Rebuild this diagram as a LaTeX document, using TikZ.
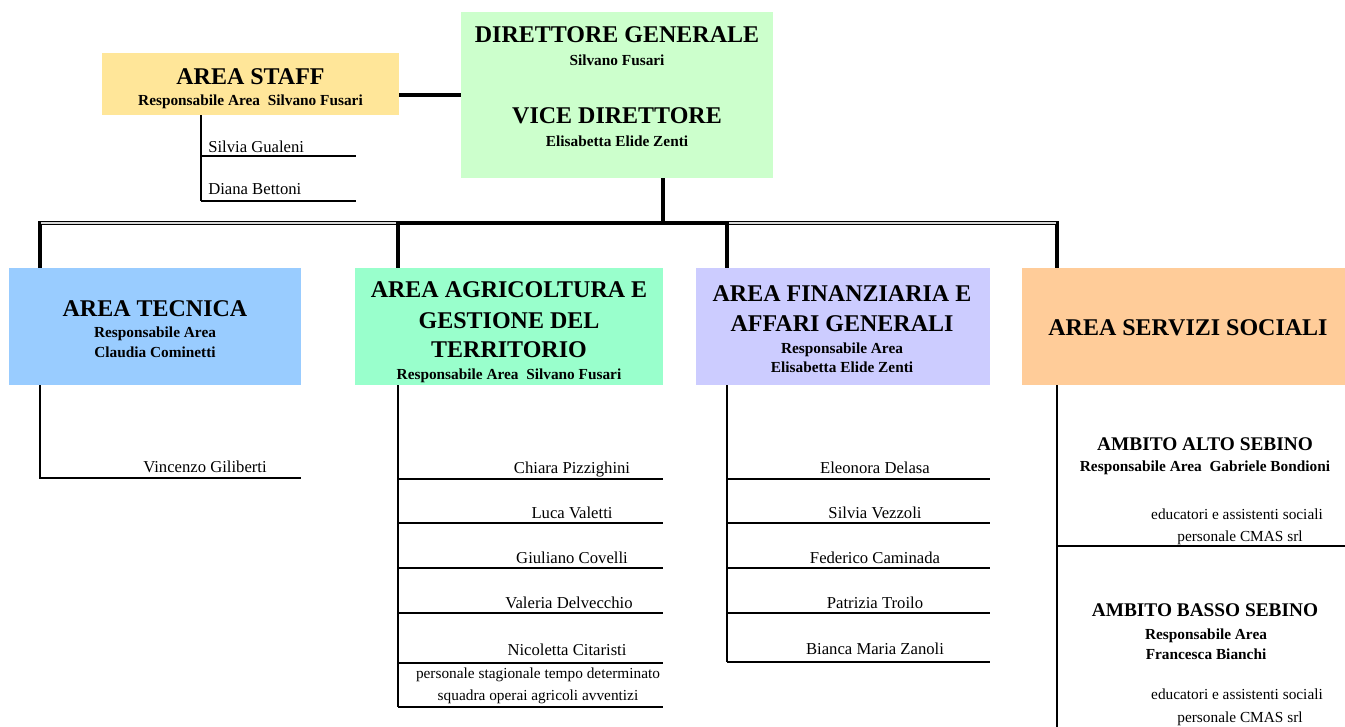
\documentclass[tikz,border=0pt]{standalone}
\usepackage{fontspec}
\setmainfont{Liberation Serif}
\definecolor{cDir}{HTML}{CCFFCC}
\definecolor{cStaff}{HTML}{FFE699}
\definecolor{cTec}{HTML}{99CCFF}
\definecolor{cAgr}{HTML}{99FFCC}
\definecolor{cFin}{HTML}{CCCCFF}
\definecolor{cSer}{HTML}{FFCC99}
\definecolor{cGap}{HTML}{D8D8D8}
\tikzset{
  areabox/.style={draw=none, inner sep=0pt, minimum height=87.75pt},
  bigtxt/.style={font=\fontsize{18}{20}\selectfont\bfseries, anchor=base, inner sep=0pt},
  subtxt/.style={font=\fontsize{11.5}{13}\selectfont\bfseries, anchor=base, inner sep=0pt},
  ambtxt/.style={font=\fontsize{14.5}{16}\selectfont\bfseries, anchor=base, inner sep=0pt},
  nametxt/.style={font=\fontsize{12.5}{14}\selectfont, anchor=base, inner sep=0pt},
  notetxt/.style={font=\fontsize{11.5}{13}\selectfont, anchor=base, inner sep=0pt},
  mainline/.style={line width=2.4pt, black},
  dblouter/.style={line width=2.4pt, black},
  dblinner/.style={line width=0.8pt, cGap},
  treeline/.style={line width=1pt, black},
  nameline/.style={line width=1.3pt, black},
}
\begin{document}
\begin{tikzpicture}[x=0.75pt, y=-0.75pt]
\useasboundingbox (0,0) rectangle (1345,727);

% ---- boxes ----
\node[fill=cDir, inner sep=0pt, minimum width=234pt, minimum height=124.5pt] (dir) at (617,95) {};
\node[fill=cStaff, inner sep=0pt, minimum width=222.75pt, minimum height=46.5pt] (staff) at (250.5,84) {};
\node[areabox, fill=cTec, minimum width=219pt] (tec) at (155,326.5) {};
\node[areabox, fill=cAgr, minimum width=231pt] (agr) at (509,326.5) {};
\node[areabox, fill=cFin, minimum width=220.5pt] (fin) at (843,326.5) {};
\node[areabox, fill=cSer, minimum width=242.25pt] (ser) at (1183.5,326.5) {};

% ---- texts in boxes ----
\node[bigtxt] (t1) at (617,43) {DIRETTORE GENERALE};
\node[subtxt] (t2) at (617,66) {Silvano Fusari};
\node[bigtxt] (t3) at (617,124) {VICE DIRETTORE};
\node[subtxt] (t4) at (617,147) {Elisabetta Elide Zenti};

\node[bigtxt] (s1) at (250.5,85) {AREA STAFF};
\node[subtxt] (s2) at (250.5,106) {Responsabile Area\ \ Silvano Fusari};

\node[bigtxt] (tc1) at (155,316) {AREA TECNICA};
\node[subtxt] (tc2) at (155,337) {Responsabile Area};
\node[subtxt] (tc3) at (155,357) {Claudia Cominetti};

\node[bigtxt] (ag1) at (509,297) {AREA AGRICOLTURA E};
\node[bigtxt] (ag2) at (509,328) {GESTIONE DEL};
\node[bigtxt] (ag3) at (509,357) {TERRITORIO};
\node[subtxt] (ag4) at (509,379) {Responsabile Area\ \ Silvano Fusari};

\node[bigtxt] (fn1) at (842,301) {AREA FINANZIARIA E};
\node[bigtxt] (fn2) at (842,331) {AFFARI GENERALI};
\node[subtxt] (fn3) at (842,353) {Responsabile Area};
\node[subtxt] (fn4) at (842,372) {Elisabetta Elide Zenti};

\node[bigtxt] (sr1) at (1188,335) {AREA SERVIZI SOCIALI};

% ---- top connectors ----
\coordinate (sd) at (430,95);
\draw[mainline] (staff.east |- sd) -- (dir.west |- sd);
\coordinate (bar) at (663,223);
\draw[mainline] (dir.south -| bar) -- (bar);
\coordinate (b1) at (40,223);
\coordinate (b2) at (398,223);
\coordinate (b3) at (727,223);
\coordinate (b4) at (1057,223);
\draw[mainline] (b1) -- (tec.north -| b1);
\draw[mainline] (b2) -- (agr.north -| b2);
\draw[mainline] (b3) -- (fin.north -| b3);
\draw[mainline] (b4) -- (ser.north -| b4);
\draw[dblouter] ([xshift=-1.2pt]b1) -- (b2);
\draw[dblinner] ([xshift=1pt]b1) -- (b2);
\draw[dblouter] (b3) -- ([xshift=1.2pt]b4);
\draw[dblinner] (b3) -- ([xshift=-1pt]b4);
\draw[mainline] ([xshift=-1.2pt]b2) -- ([xshift=1.2pt]b3);

% ---- staff members ----
\coordinate (sv) at (201,201);
\draw[treeline] (staff.south -| sv) -- (sv);
\draw[nameline] (201,156) -- (356,156);
\draw[nameline] (201,201) -- (356,201);
\node[nametxt, anchor=base west] (n1) at (208,153) {Silvia Gualeni};
\node[nametxt, anchor=base west] (n2) at (208,195) {Diana Bettoni};

% ---- area tecnica ----
\coordinate (tv) at (40,478);
\draw[treeline] (tec.south -| tv) -- (tv) -- (301,478);
\node[nametxt] (tn1) at (205,472) {Vincenzo Giliberti};

% ---- area agricoltura ----
\coordinate (av) at (398,707);
\draw[treeline] (agr.south -| av) -- (av);
\foreach \yy in {479,523,568,613,663,707}{
  \draw[nameline] (398,\yy) -- (663,\yy);
}
\node[nametxt] (an1) at (572,473) {Chiara Pizzighini};
\node[nametxt] (an2) at (572,518) {Luca Valetti};
\node[nametxt] (an3) at (572,563) {Giuliano Covelli};
\node[nametxt] (an4) at (569,608) {Valeria Delvecchio};
\node[nametxt] (an5) at (567,655) {Nicoletta Citaristi};
\node[notetxt] (an6) at (538,678) {personale stagionale tempo determinato};
\node[notetxt] (an7) at (538,700) {squadra operai agricoli avventizi};

% ---- area finanziaria ----
\coordinate (fv) at (727,662);
\draw[treeline] (fin.south -| fv) -- (fv);
\foreach \yy in {479,523,568,613,662}{
  \draw[nameline] (727,\yy) -- (990,\yy);
}
\node[nametxt] (fn5) at (875,473) {Eleonora Delasa};
\node[nametxt] (fn6) at (875,518) {Silvia Vezzoli};
\node[nametxt] (fn7) at (875,563) {Federico Caminada};
\node[nametxt] (fn8) at (875,608) {Patrizia Troilo};
\node[nametxt] (fn9) at (875,654) {Bianca Maria Zanoli};

% ---- area servizi sociali ----
\coordinate (rv) at (1057,727);
\draw[treeline] (ser.south -| rv) -- (rv);
\draw[line width=0.8pt] (1057,546) -- (1345,546);
\node[ambtxt] (sa1) at (1205,450) {AMBITO ALTO SEBINO};
\node[subtxt] (sa2) at (1205,471) {Responsabile Area\ \ Gabriele Bondioni};
\node[notetxt] (sa3) at (1237,519) {educatori e assistenti sociali};
\node[notetxt] (sa4) at (1240,541) {personale CMAS srl};
\node[ambtxt] (sb1) at (1205,616) {AMBITO BASSO SEBINO};
\node[subtxt] (sb2) at (1206,639) {Responsabile Area};
\node[subtxt] (sb3) at (1206,659) {Francesca Bianchi};
\node[notetxt] (sb4) at (1237,699) {educatori e assistenti sociali};
\node[notetxt] (sb5) at (1240,722) {personale CMAS srl};
\end{tikzpicture}
\end{document}
